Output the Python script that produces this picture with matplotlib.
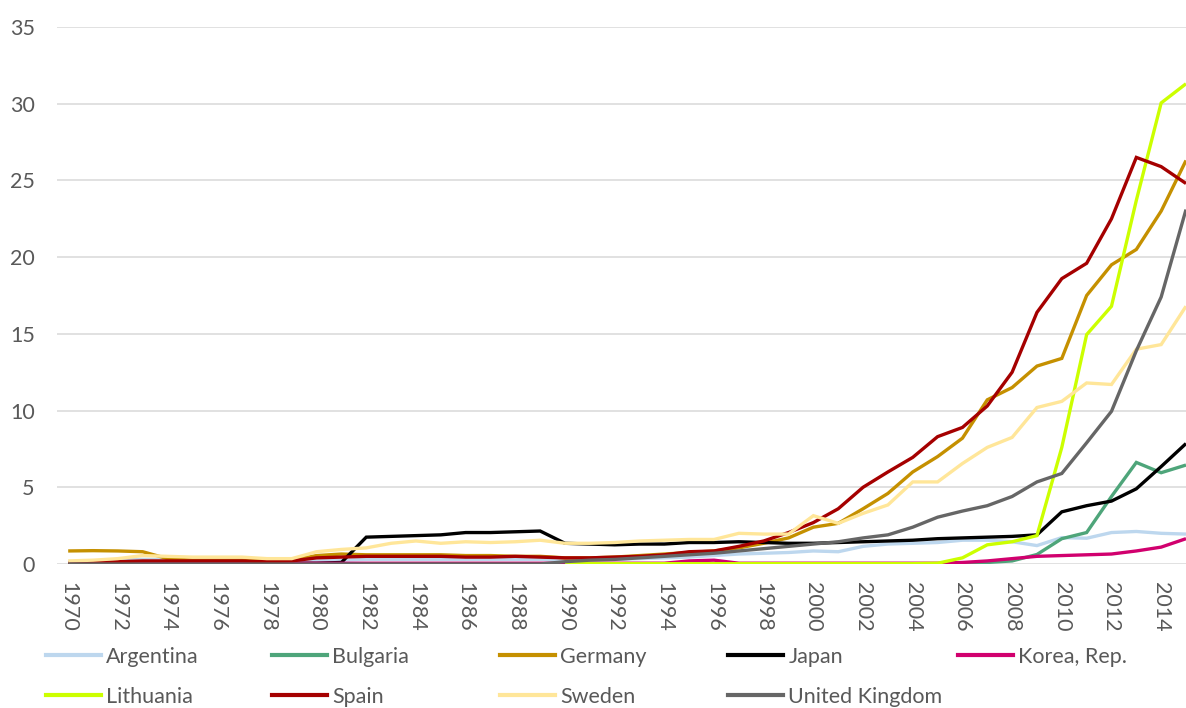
import numpy as np
import matplotlib
matplotlib.use("Agg")
import matplotlib.pyplot as plt
from matplotlib.lines import Line2D

years = list(range(1970, 2016))

argentina = [0.1, 0.15, 0.25, 0.3, 0.3, 0.2, 0.2, 0.2, 0.2, 0.2,
             0.2, 0.25, 0.3, 0.3, 0.3, 0.3, 0.3, 0.3, 0.3, 0.3,
             0.25, 0.3, 0.3, 0.35, 0.4, 0.45, 0.55, 0.65, 0.7, 0.75,
             0.85, 0.8, 1.15, 1.3, 1.35, 1.4, 1.55, 1.55, 1.45, 1.2,
             1.72, 1.68, 2.05, 2.12, 2.0, 1.95]
bulgaria = [0.0] * 20 + [0.0] * 17 + [0.1, 0.2, 0.62, 1.65, 2.05, 4.4, 6.62, 5.95, 6.45]
germany = [0.85, 0.87, 0.85, 0.8, 0.35, 0.25, 0.25, 0.25, 0.2, 0.25,
           0.55, 0.65, 0.6, 0.6, 0.6, 0.6, 0.55, 0.55, 0.5, 0.5,
           0.4, 0.4, 0.45, 0.55, 0.65, 0.75, 0.85, 1.05, 1.35, 1.7,
           2.4, 2.65, 3.6, 4.6, 6.0, 7.0, 8.2, 10.7, 11.5, 12.9,
           13.4, 17.5, 19.5, 20.5, 23.0, 26.3]
japan = [0.05] * 11 + [0.1, 1.75, 1.8, 1.85, 1.9, 2.05, 2.05, 2.1, 2.15,
         1.35, 1.3, 1.25, 1.3, 1.3, 1.4, 1.4, 1.45, 1.4, 1.35,
         1.35, 1.4, 1.45, 1.5, 1.55, 1.65, 1.7, 1.75, 1.8, 1.9,
         3.4, 3.8, 4.1, 4.9, 6.35, 7.85]
korea = [0.05] * 25 + [0.2, 0.25, 0.05, 0.05, 0.05,
         0.05, 0.05, 0.05, 0.05, 0.05, 0.05, 0.1, 0.2, 0.35, 0.5,
         0.55, 0.6, 0.65, 0.85, 1.1, 1.65]
lithuania = [np.nan] * 20 + [0.02] * 15 + [0.05, 0.4, 1.25, 1.45, 1.85,
             7.6, 14.95, 16.8, 23.7, 30.05, 31.3]
spain = [0.05, 0.1, 0.15, 0.2, 0.2, 0.2, 0.2, 0.2, 0.15, 0.2,
         0.4, 0.45, 0.5, 0.5, 0.5, 0.5, 0.45, 0.45, 0.5, 0.45,
         0.4, 0.4, 0.45, 0.5, 0.6, 0.8, 0.85, 1.15, 1.5, 2.05,
         2.7, 3.6, 5.0, 6.0, 6.95, 8.3, 8.9, 10.3, 12.5, 16.4,
         18.6, 19.6, 22.5, 26.5, 25.9, 24.8]
sweden = [0.2, 0.25, 0.35, 0.55, 0.5, 0.45, 0.45, 0.45, 0.35, 0.35,
          0.8, 0.95, 1.05, 1.35, 1.5, 1.35, 1.45, 1.4, 1.45, 1.55,
          1.35, 1.35, 1.4, 1.5, 1.55, 1.6, 1.6, 2.0, 1.95, 1.95,
          3.15, 2.65, 3.3, 3.85, 5.35, 5.35, 6.55, 7.6, 8.25, 10.2,
          10.6, 11.8, 11.7, 14.0, 14.3, 16.8]
uk = [0.0] * 20 + [0.15, 0.25, 0.3, 0.4, 0.5, 0.6, 0.7, 0.85, 1.0, 1.15,
      1.3, 1.45, 1.7, 1.9, 2.4, 3.05, 3.45, 3.8, 4.4, 5.35,
      5.9, 7.9, 9.95, 13.9, 17.4, 23.1]

names = ["Argentina", "Bulgaria", "Germany", "Japan", "Korea, Rep.",
         "Lithuania", "Spain", "Sweden", "United Kingdom"]
series = [argentina, bulgaria, germany, japan, korea, lithuania, spain, sweden, uk]
colors = ["#BDD7EE", "#4EA57A", "#C59000", "#000000", "#D1006E",
          "#CCFF00", "#A50000", "#FFE699", "#666666"]

y_ticks = [0, 5, 10, 15, 20, 25, 30, 35]
x_ticks = list(range(1970, 2015, 2))

W, H = 1186, 708
fig = plt.figure(figsize=(W / 100, H / 100), dpi=100)
ax = fig.add_axes([57 / W, 1 - 564 / H, (W - 57) / W, (564 - 27) / H])

font = ["Lato", "DejaVu Sans"]
txtcol = "#595959"
fs = 15.5

handles = []
for vals, col in zip(series, colors):
    ln, = ax.plot(years, vals, color=col, lw=2.4, solid_joinstyle="miter",
                  solid_capstyle="butt", zorder=3)
    handles.append(ln)

ax.set_xlim(1969.55, 2015.0)
ax.set_ylim(0, 35)
ax.set_yticks(y_ticks)
ax.set_xticks(x_ticks)
ax.set_xticklabels([str(y) for y in x_ticks], rotation=-90, family=font,
                   fontsize=fs, color=txtcol)
ax.set_yticklabels([str(v) for v in y_ticks], family=font, fontsize=fs,
                   color=txtcol)
ax.tick_params(axis="both", length=0)
ax.tick_params(axis="x", pad=13)
ax.tick_params(axis="y", pad=16)
ax.grid(axis="y", color="#D9D9D9", lw=1.1, zorder=0)
ax.set_axisbelow(True)
for s in ax.spines.values():
    s.set_visible(False)

# legend: 5 equally spaced columns, 2 rows
col_x = [46, 272, 500, 728, 958]
row_y = [657, 697]
for i, (h, name) in enumerate(zip(handles, names)):
    c, r = i % 5, i // 5
    lh = Line2D([], [], color=h.get_color(), lw=3.0)
    leg = fig.legend([lh], [name], loc="center left",
                     bbox_to_anchor=(col_x[c] / W, 1 - row_y[r] / H),
                     frameon=False, borderpad=0, borderaxespad=0,
                     handlelength=2.55, handletextpad=0.25,
                     prop={"family": font, "size": fs})
    for t in leg.get_texts():
        t.set_color(txtcol)

fig.savefig("out.png", dpi=100)
